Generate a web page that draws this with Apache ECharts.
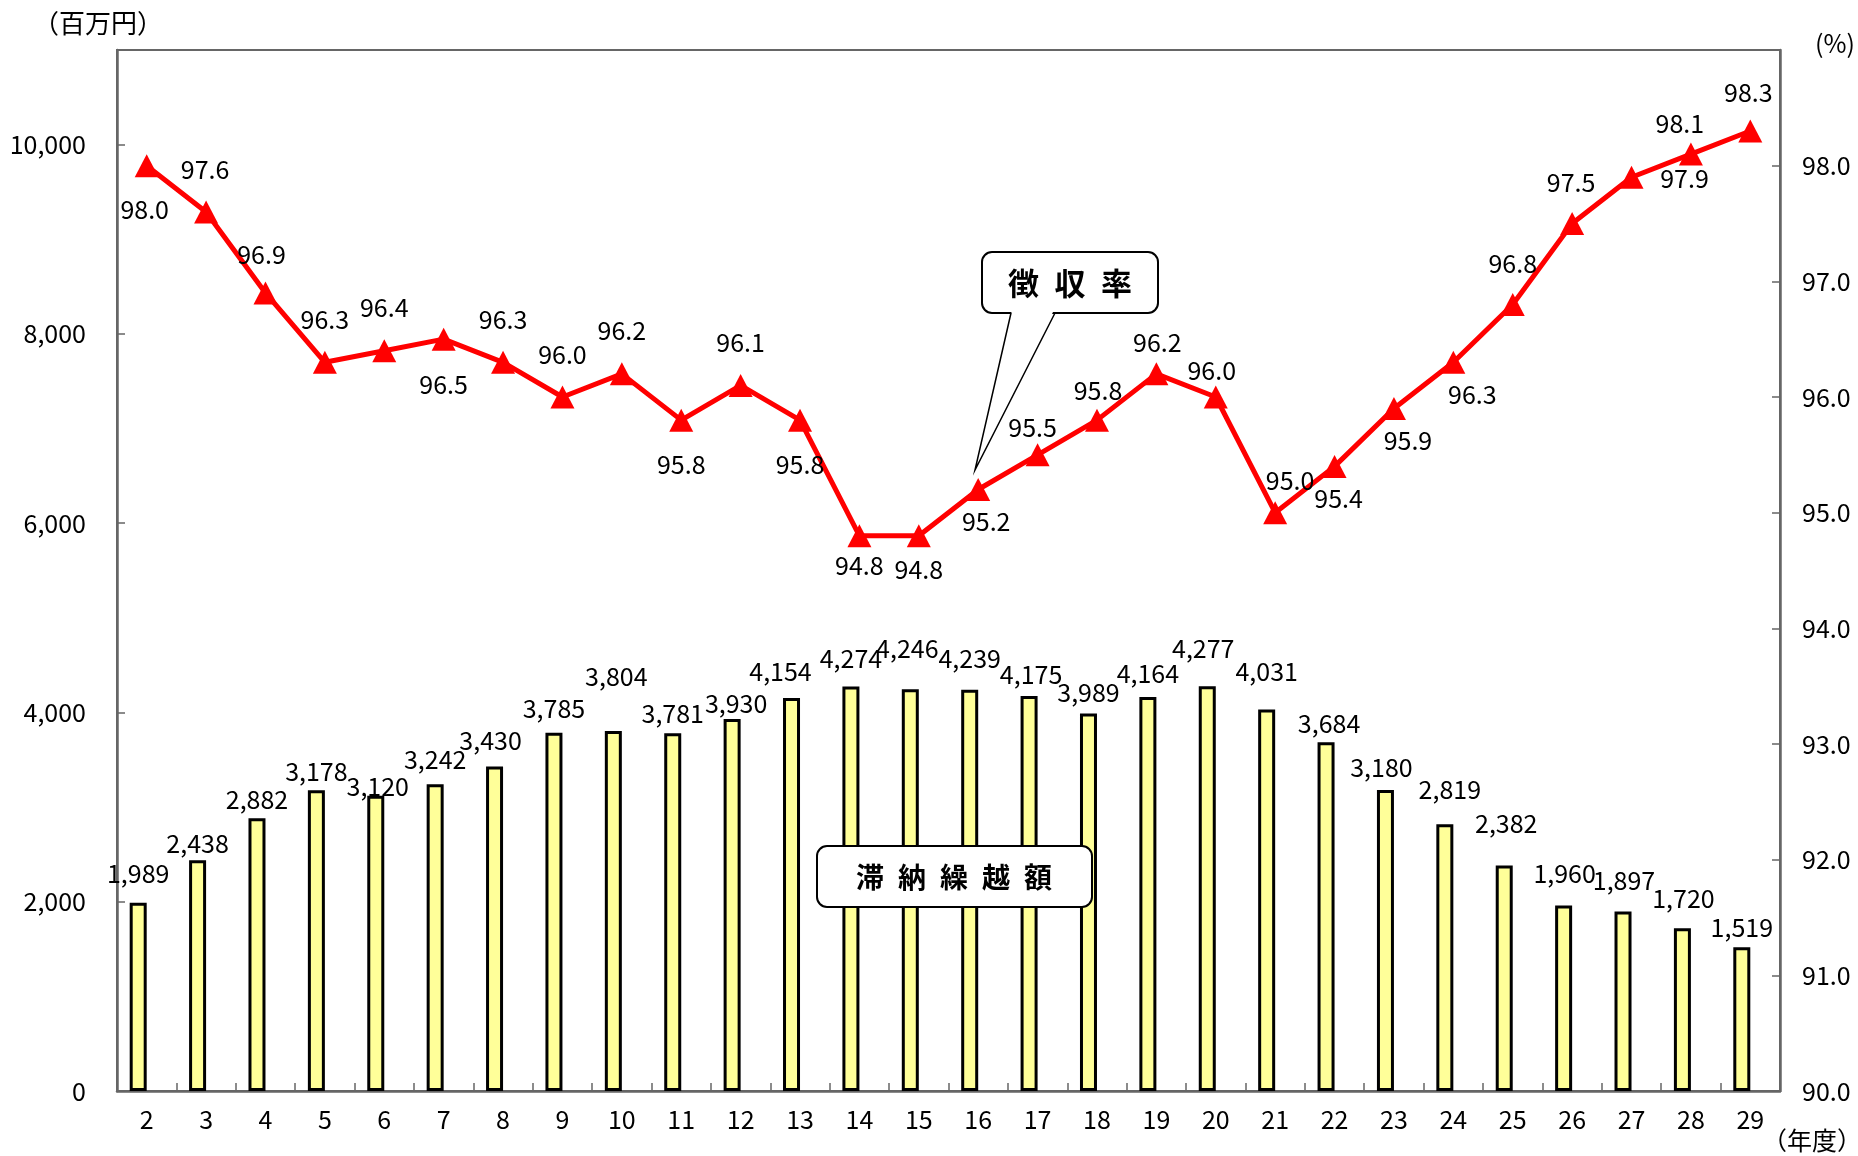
<!DOCTYPE html>
<html>
<head>
<meta charset="utf-8">
<script src="https://cdn.jsdelivr.net/npm/echarts@6/dist/echarts.min.js"></script>
<style>
html,body{margin:0;padding:0;background:#fff;}
#c{width:1858px;height:1156px;}
</style>
</head>
<body>
<div id="c"></div>
<script>
// ---- data ----
const years = ['2','3','4','5','6','7','8','9','10','11','12','13','14','15','16','17','18','19','20','21','22','23','24','25','26','27','28','29'];
const arrears = [1989,2438,2882,3178,3120,3242,3430,3785,3804,3781,3930,4154,4274,4246,4239,4175,3989,4164,4277,4031,3684,3180,2819,2382,1960,1897,1720,1519];
const collectionRate = [98.0,97.6,96.9,96.3,96.4,96.5,96.3,96.0,96.2,95.8,96.1,95.8,94.8,94.8,95.2,95.5,95.8,96.2,96.0,95.0,95.4,95.9,96.3,96.8,97.5,97.9,98.1,98.3];
const leftTicks = {min:0, max:11000, step:2000};
const rightTicks = {min:90, max:99, step:1};

// ---- label layout (not data) ----
const barLabelNudge = [[0,-6],[0,7],[0,5],[0,5],[2,14],[0,-1],[-4,-2],[0,-1],[3,-31],[0,4],[4,8],[-11,-3],[0,-5],[-3,-17],[0,-8],[2,2],[0,3],[0,0],[-4,-14],[0,-15],[3,5],[-4,1],[5,-11],[2,-19],[1,-9],[1,-7],[1,-6],[0,4]];
const rateLabelOffset = [[-2,44],[-1,-42],[-4,-38],[0,-43],[0,-43],[0,45],[0,-43],[0,-43],[0,-43],[0,44],[0,-43],[0,44],[0,30],[0,34],[8,32],[-5,-27],[1,-30],[1,-31],[-4,-27],[15,-32],[4,32],[14,32],[19,32],[0,-41],[-1,-41],[53,1],[-11,-31],[-2,-38]];

const FONT = '"Noto Sans CJK JP", "Noto Sans", sans-serif';
const FS = 25;
const AX = '#666666';

const chart = echarts.init(document.getElementById('c'), null, {renderer:'canvas'});

const barData = arrears.map((v,i)=>({value:v, label:{offset:barLabelNudge[i]}}));
const lineData = collectionRate.map((v,i)=>({value:v, label:{offset:rateLabelOffset[i]}}));

const option = {
  backgroundColor:'#ffffff',
  animation:false,
  grid:{left:117, right:78, top:50, bottom:65, show:true, borderColor:AX, borderWidth:2, backgroundColor:'transparent'},
  xAxis:{
    type:'category', data:years, boundaryGap:true,
    axisLine:{show:true, lineStyle:{color:AX, width:2.5}},
    axisTick:{show:true, inside:true, length:8, lineStyle:{color:AX, width:1.5}},
    axisLabel:{color:'#000', fontSize:FS, fontFamily:FONT, margin:16},
    splitLine:{show:false}
  },
  yAxis:[{
    type:'value', min:leftTicks.min, max:leftTicks.max, interval:leftTicks.step,
    axisLine:{show:true, lineStyle:{color:AX, width:2.5}},
    axisTick:{show:true, inside:true, length:8, lineStyle:{color:AX, width:1.5}},
    axisLabel:{color:'#000', fontSize:FS, fontFamily:FONT, margin:31, showMaxLabel:false,
      formatter:v=>v.toLocaleString('en-US')},
    splitLine:{show:false}
  },{
    type:'value', min:rightTicks.min, max:rightTicks.max, interval:rightTicks.step,
    position:'right',
    axisLine:{show:true, lineStyle:{color:AX, width:2.5}},
    axisTick:{show:true, inside:true, length:8, lineStyle:{color:AX, width:1.5}},
    axisLabel:{color:'#000', fontSize:FS, fontFamily:FONT, margin:22, showMaxLabel:false,
      formatter:v=>v.toFixed(1)},
    splitLine:{show:false}
  }],
  series:[{
    name:'滞納繰越額', type:'bar', yAxisIndex:0, data:barData,
    barWidth:17, barGap:'0%',
    itemStyle:{color:'#FFFF99', borderColor:'#000', borderWidth:3},
    label:{show:true, position:'top', distance:11, color:'#000', fontSize:FS, fontFamily:FONT,
      formatter:p=>p.value.toLocaleString('en-US')},
    z:2
  },{
    name:'spacer', type:'bar', yAxisIndex:0, data:arrears.map(()=>null),
    barWidth:17, barGap:'0%', silent:true
  },{
    name:'徴収率', type:'line', yAxisIndex:1, data:lineData,
    lineStyle:{color:'#FF0000', width:5},
    itemStyle:{color:'#FF0000'},
    symbol:'triangle', symbolSize:[24,23], showAllSymbol:true,
    label:{show:true, position:'inside', color:'#000', fontSize:FS, fontFamily:FONT,
      formatter:p=>p.value.toFixed(1)},
    z:5
  }],
  graphic:[
    {type:'text', left:33, top:10, style:{text:'（百万円）', font:'26px '+FONT, fill:'#000'}},
    {type:'text', left:1815, top:31, style:{text:'(%)', font:'25px '+FONT, fill:'#000'}},
    {type:'text', left:1762, top:1128, style:{text:'（年度）', font:'25px '+FONT, fill:'#000'}},
    // 徴収率 callout
    {type:'rect', shape:{x:982, y:252, width:176, height:61, r:10}, style:{fill:'#fff', stroke:'#000', lineWidth:2}, z:100},
    {type:'polygon', shape:{points:[[1012,310],[1054,310],[975,468]]}, style:{fill:'#fff', stroke:null}, z:101},
    {type:'polyline', shape:{points:[[1011,313],[975,470],[1055,313]]}, style:{fill:null, stroke:'#000', lineWidth:1.5}, z:102},
    {type:'text', x:1070, y:283, style:{text:'徴\u2002収\u2002率', font:'bold 31px '+FONT, fill:'#000', align:'center', verticalAlign:'middle'}, z:103},
    // 滞納繰越額 callout
    {type:'rect', shape:{x:817, y:846, width:275, height:61, r:10}, style:{fill:'#fff', stroke:'#000', lineWidth:2}, z:100},
    {type:'text', x:954, y:877, style:{text:'滞\u2002納\u2002繰\u2002越\u2002額', font:'bold 28px '+FONT, fill:'#000', align:'center', verticalAlign:'middle'}, z:103}
  ]
};
chart.setOption(option);
</script>
</body>
</html>
